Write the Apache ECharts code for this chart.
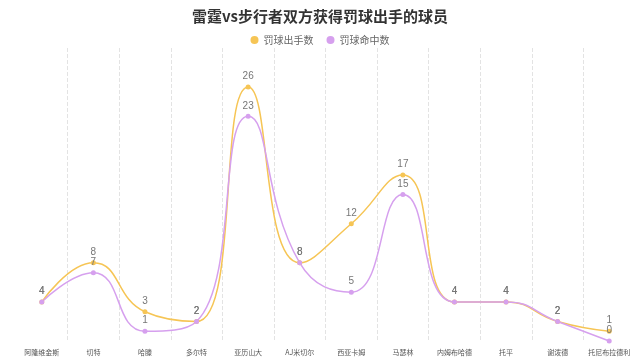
<!DOCTYPE html>
<html><head><meta charset="utf-8">
<script src="https://cdn.jsdelivr.net/npm/echarts@6/dist/echarts.min.js"></script>
<style>html,body{margin:0;padding:0;background:#fff}#c{width:640px;height:361px}</style>
</head><body><div id="c"></div>
<script>
const categories = ['阿隆维金斯','切特','哈滕','多尔特','亚历山大','AJ米切尔','西亚卡姆','马瑟林','内姆布哈德','托平','谢泼德','托尼布拉德利'];
const attempts = [4,8,3,2,26,8,12,17,4,4,2,1];
const made = [4,7,1,2,23,8,5,15,4,4,2,0];
const seriesNames = ['罚球出手数','罚球命中数'];
const chart = echarts.init(document.getElementById('c'));
const font = '"Microsoft YaHei","Noto Sans CJK SC",sans-serif';
chart.setOption({
  animation:false,
  title:{text:'雷霆vs步行者双方获得罚球出手的球员',left:'center',top:4,textStyle:{fontSize:15,fontWeight:'bold',color:'#333',fontFamily:font}},
  legend:{data:seriesNames,top:30,icon:'circle',itemWidth:8,itemHeight:8,itemGap:13,textStyle:{fontSize:10,color:'#666',fontFamily:font}},
  grid:{left:16,right:5,top:48,bottom:20,containLabel:false},
  xAxis:{type:'category',data:categories,boundaryGap:true,
    axisLine:{show:false},axisTick:{show:false},
    axisLabel:{fontSize:7,color:'#555',margin:8,interval:0,fontFamily:font},
    splitLine:{show:true,showMinLine:false,showMaxLine:false,lineStyle:{type:'dashed',color:'#e3e3e3'}}},
  yAxis:{type:'value',min:0,max:30,show:false,splitLine:{show:false}},
  series:[
    {name:seriesNames[0],type:'line',smooth:true,data:attempts,symbol:'circle',symbolSize:5,
     itemStyle:{color:'#f6c555'},lineStyle:{width:1.5,color:'#f6c555'},
     label:{show:true,position:'top',fontSize:10,color:'#777',distance:3}},
    {name:seriesNames[1],type:'line',smooth:true,data:made,symbol:'circle',symbolSize:5,
     itemStyle:{color:'#d6a0ee'},lineStyle:{width:1.5,color:'#d6a0ee'},
     label:{show:true,position:'top',fontSize:10,color:'#777',distance:3}}
  ]
});
</script></body></html>
